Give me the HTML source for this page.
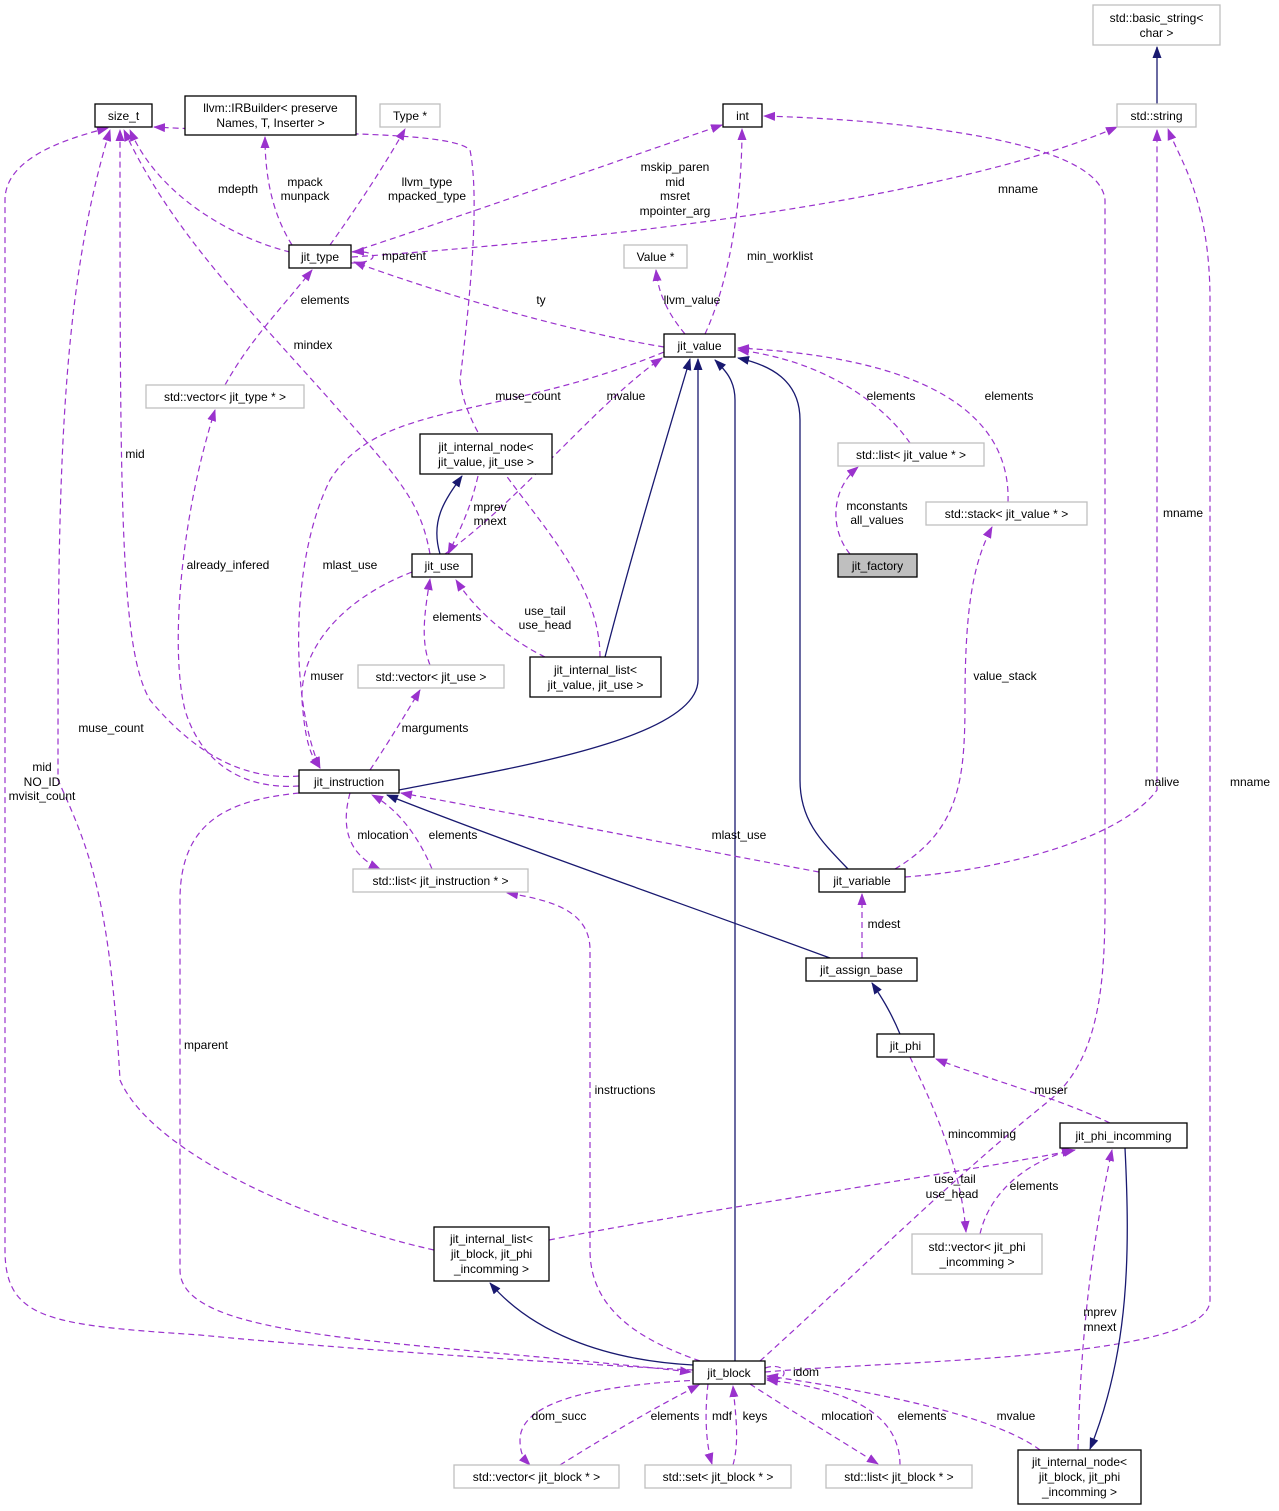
<!DOCTYPE html>
<html><head><meta charset="utf-8"><style>
html,body{margin:0;padding:0;background:#fff;}
svg{display:block;font-family:"Liberation Sans",Arial,sans-serif;font-size:12px;}
.n{fill:#fff;stroke:#000;stroke-width:1.3}
.g{fill:#fff;stroke:#bfbfbf;stroke-width:1.3}
.d{fill:none;stroke:#9a32cd;stroke-width:1.2;stroke-dasharray:6,4;marker-end:url(#mp)}
.s{fill:none;stroke:#191970;stroke-width:1.3;marker-end:url(#mn)}
text{fill:#000}
.c{text-anchor:middle}
</style></head><body>
<svg width="1279" height="1511" viewBox="0 0 1279 1511" xmlns="http://www.w3.org/2000/svg">
<defs>
<marker id="mp" markerWidth="12" markerHeight="10" refX="11" refY="4.5" orient="auto" markerUnits="userSpaceOnUse"><path d="M0,0 L12,4.5 L0,9 z" fill="#9a32cd"/></marker>
<marker id="mn" markerWidth="12" markerHeight="10" refX="11" refY="4.5" orient="auto" markerUnits="userSpaceOnUse"><path d="M0,0 L12,4.5 L0,9 z" fill="#191970"/></marker>
</defs>

<!-- edges -->
<path class="s" d="M1157,104 L1157,47"/>
<path class="d" d="M290,252 C240,240 160,200 130,130"/>
<path class="d" d="M292,245 C270,210 265,170 265,137"/>
<path class="d" d="M330,245 C355,210 385,165 405,129"/>
<path class="d" d="M352,252 C450,220 620,160 722,125"/>
<path class="d" d="M352,257 C600,240 950,200 1117,127"/>
<path class="d" d="M351,263 C380,263 380,250 353,252"/>
<path class="d" d="M664,347 C560,330 430,290 354,262"/>
<path class="d" d="M685,334 C665,310 658,290 656,270"/>
<path class="d" d="M705,334 C730,280 742,200 742,129"/>
<path class="d" d="M225,385 C250,340 280,310 312,270"/>
<path class="d" d="M430,554 C420,500 400,480 330,400 C250,310 170,230 124,130"/>
<path class="d" d="M299,776 C250,780 200,760 150,700 C120,650 120,500 120,130"/>
<path class="d" d="M600,657 C600,550 470,470 460,380 C470,300 480,200 470,150 C450,130 300,135 154,127"/>
<path class="d" d="M434,1250 C300,1220 150,1150 120,1080 C110,900 90,850 58,780 C58,500 58,300 110,130"/>
<path class="d" d="M693,1370 C500,1360 300,1345 200,1335 C50,1325 5,1320 5,1250 L5,200 C5,160 60,140 108,128"/>
<path class="d" d="M445,554 C520,500 600,400 662,358"/>
<path class="d" d="M664,352 C500,420 380,400 330,480 C290,560 290,700 320,768"/>
<path class="s" d="M440,554 C430,520 445,500 462,476"/>
<path class="d" d="M478,476 C470,510 460,530 448,554"/>
<path class="d" d="M545,657 C510,640 475,610 456,580"/>
<path class="d" d="M430,665 C420,640 425,610 430,579"/>
<path class="s" d="M605,657 C630,560 660,460 690,359"/>
<path class="s" d="M399,790 C500,770 698,740 698,680 L698,359"/>
<path class="s" d="M735,1361 L735,400 C735,380 725,370 715,360"/>
<path class="s" d="M848,869 C820,840 800,820 800,780 L800,420 C800,380 770,365 738,358"/>
<path class="d" d="M910,443 C880,400 820,360 738,350"/>
<path class="d" d="M1008,502 C1010,440 970,360 738,348"/>
<path class="d" d="M850,554 C830,530 830,490 858,467"/>
<path class="d" d="M895,869 C960,830 965,780 965,700 C965,600 975,560 992,527"/>
<path class="d" d="M370,770 C390,740 405,715 420,690"/>
<path class="d" d="M412,572 C340,600 300,650 302,700 C305,740 310,755 320,768"/>
<path class="d" d="M299,786 C240,790 200,760 185,710 C170,650 180,520 215,410"/>
<path class="d" d="M350,793 C340,830 350,855 380,869"/>
<path class="d" d="M432,869 C420,840 400,810 372,795"/>
<path class="d" d="M819,872 C700,850 550,820 401,793"/>
<path class="s" d="M830,958 C700,910 500,840 387,795"/>
<path class="d" d="M905,877 C1000,870 1120,840 1157,790 L1157,130"/>
<path class="d" d="M862,958 L862,894"/>
<path class="s" d="M900,1034 C890,1010 880,995 872,983"/>
<path class="d" d="M1110,1123 C1050,1095 990,1080 936,1059"/>
<path class="d" d="M910,1057 C930,1100 960,1160 966,1232"/>
<path class="d" d="M980,1234 C990,1190 1030,1160 1073,1150"/>
<path class="d" d="M760,1361 C850,1280 950,1180 1050,1100 C1110,1050 1105,950 1105,850 L1105,200 C1100,140 900,120 764,116"/>
<path class="d" d="M549,1240 C700,1210 950,1175 1075,1150"/>
<path class="s" d="M693,1365 C600,1360 530,1330 490,1283"/>
<path class="d" d="M765,1372 C900,1360 1210,1360 1210,1300 L1210,300 C1210,200 1180,160 1168,129"/>
<path class="d" d="M700,1361 C640,1340 590,1310 590,1250 L590,950 C590,910 550,900 507,893"/>
<path class="d" d="M299,793 C230,800 180,820 180,900 L180,1270 C180,1340 400,1340 691,1372"/>
<path class="d" d="M765,1368 C790,1360 790,1385 767,1378"/>
<path class="d" d="M700,1380 C600,1385 520,1400 520,1440 C520,1455 525,1460 530,1465"/>
<path class="d" d="M560,1465 C600,1440 650,1410 699,1385"/>
<path class="d" d="M708,1384 C705,1410 705,1440 712,1464"/>
<path class="d" d="M733,1465 C740,1440 735,1410 733,1386"/>
<path class="d" d="M750,1384 C790,1410 840,1440 878,1464"/>
<path class="d" d="M900,1465 C900,1420 860,1390 767,1380"/>
<path class="d" d="M1040,1450 C1000,1420 900,1395 767,1376"/>
<path class="d" d="M1078,1450 C1080,1350 1090,1250 1112,1150"/>
<path class="s" d="M1125,1148 C1130,1250 1130,1350 1090,1449"/>

<!-- nodes -->
<rect class="n" x="95" y="104" width="57" height="23"/><text class="c" x="123.5" y="120">size_t</text>
<rect class="n" x="185" y="96" width="171" height="39"/><text class="c" x="270.5" y="112">llvm::IRBuilder&lt; preserve</text><text class="c" x="270.5" y="127">Names, T, Inserter &gt;</text>
<rect class="g" x="380" y="104" width="60" height="23"/><text class="c" x="410" y="120">Type *</text>
<rect class="n" x="723" y="104" width="39" height="23"/><text class="c" x="742.5" y="120">int</text>
<rect class="g" x="1093" y="5" width="127" height="40"/><text class="c" x="1156.5" y="22">std::basic_string&lt;</text><text class="c" x="1156.5" y="37">char &gt;</text>
<rect class="g" x="1117" y="104" width="79" height="23"/><text class="c" x="1156.5" y="120">std::string</text>
<rect class="n" x="289" y="245" width="62" height="23"/><text class="c" x="320" y="261">jit_type</text>
<rect class="g" x="624" y="245" width="63" height="23"/><text class="c" x="655.5" y="261">Value *</text>
<rect class="n" x="664" y="334" width="71" height="23"/><text class="c" x="699.5" y="350">jit_value</text>
<rect class="g" x="146" y="385" width="158" height="23"/><text class="c" x="225" y="401">std::vector&lt; jit_type * &gt;</text>
<rect class="n" x="420" y="434" width="132" height="40"/><text class="c" x="486" y="451">jit_internal_node&lt;</text><text class="c" x="486" y="466">jit_value, jit_use &gt;</text>
<rect class="g" x="838" y="443" width="146" height="23"/><text class="c" x="911" y="459">std::list&lt; jit_value * &gt;</text>
<rect class="g" x="926" y="502" width="161" height="23"/><text class="c" x="1006.5" y="518">std::stack&lt; jit_value * &gt;</text>
<rect x="838" y="554" width="79" height="23" fill="#bfbfbf" stroke="#000" stroke-width="1.3"/><text class="c" x="877.5" y="570">jit_factory</text>
<rect class="n" x="412" y="554" width="60" height="23"/><text class="c" x="442" y="570">jit_use</text>
<rect class="g" x="358" y="665" width="146" height="23"/><text class="c" x="431" y="681">std::vector&lt; jit_use &gt;</text>
<rect class="n" x="530" y="657" width="131" height="40"/><text class="c" x="595.5" y="674">jit_internal_list&lt;</text><text class="c" x="595.5" y="689">jit_value, jit_use &gt;</text>
<rect class="n" x="299" y="770" width="100" height="23"/><text class="c" x="349" y="786">jit_instruction</text>
<rect class="g" x="353" y="869" width="175" height="23"/><text class="c" x="440.5" y="885">std::list&lt; jit_instruction * &gt;</text>
<rect class="n" x="819" y="869" width="86" height="23"/><text class="c" x="862" y="885">jit_variable</text>
<rect class="n" x="806" y="958" width="111" height="23"/><text class="c" x="861.5" y="974">jit_assign_base</text>
<rect class="n" x="877" y="1034" width="57" height="23"/><text class="c" x="905.5" y="1050">jit_phi</text>
<rect class="n" x="1060" y="1123" width="127" height="25"/><text class="c" x="1123.5" y="1140">jit_phi_incomming</text>
<rect class="n" x="434" y="1227" width="115" height="54"/><text class="c" x="491.5" y="1243">jit_internal_list&lt;</text><text class="c" x="491.5" y="1258">jit_block, jit_phi</text><text class="c" x="491.5" y="1273">_incomming &gt;</text>
<rect class="g" x="912" y="1234" width="130" height="40"/><text class="c" x="977" y="1251">std::vector&lt; jit_phi</text><text class="c" x="977" y="1266">_incomming &gt;</text>
<rect class="n" x="693" y="1361" width="72" height="23"/><text class="c" x="729" y="1377">jit_block</text>
<rect class="g" x="454" y="1465" width="165" height="23"/><text class="c" x="536.5" y="1481">std::vector&lt; jit_block * &gt;</text>
<rect class="g" x="645" y="1465" width="146" height="23"/><text class="c" x="718" y="1481">std::set&lt; jit_block * &gt;</text>
<rect class="g" x="826" y="1465" width="146" height="23"/><text class="c" x="899" y="1481">std::list&lt; jit_block * &gt;</text>
<rect class="n" x="1018" y="1450" width="123" height="54"/><text class="c" x="1079.5" y="1466">jit_internal_node&lt;</text><text class="c" x="1079.5" y="1481">jit_block, jit_phi</text><text class="c" x="1079.5" y="1496">_incomming &gt;</text>

<!-- edge labels -->
<g class="c">
<text x="238" y="193">mdepth</text>
<text x="305" y="186">mpack</text><text x="305" y="200">munpack</text>
<text x="427" y="186">llvm_type</text><text x="427" y="200">mpacked_type</text>
<text x="675" y="171">mskip_paren</text><text x="675" y="186">mid</text><text x="675" y="200">msret</text><text x="675" y="215">mpointer_arg</text>
<text x="1018" y="193">mname</text>
<text x="404" y="260">mparent</text>
<text x="541" y="304">ty</text>
<text x="692" y="304">llvm_value</text>
<text x="780" y="260">min_worklist</text>
<text x="325" y="304">elements</text>
<text x="313" y="349">mindex</text>
<text x="135" y="458">mid</text>
<text x="528" y="400">muse_count</text>
<text x="626" y="400">mvalue</text>
<text x="891" y="400">elements</text>
<text x="1009" y="400">elements</text>
<text x="490" y="511">mprev</text><text x="490" y="525">mnext</text>
<text x="877" y="510">mconstants</text><text x="877" y="524">all_values</text>
<text x="1183" y="517">mname</text>
<text x="350" y="569">mlast_use</text>
<text x="228" y="569">already_infered</text>
<text x="545" y="615">use_tail</text><text x="545" y="629">use_head</text>
<text x="457" y="621">elements</text>
<text x="327" y="680">muser</text>
<text x="1005" y="680">value_stack</text>
<text x="111" y="732">muse_count</text>
<text x="435" y="732">marguments</text>
<text x="42" y="771">mid</text><text x="42" y="786">NO_ID</text><text x="42" y="800">mvisit_count</text>
<text x="1162" y="786">malive</text>
<text x="1250" y="786">mname</text>
<text x="383" y="839">mlocation</text>
<text x="453" y="839">elements</text>
<text x="739" y="839">mlast_use</text>
<text x="884" y="928">mdest</text>
<text x="206" y="1049">mparent</text>
<text x="625" y="1094">instructions</text>
<text x="1051" y="1094">muser</text>
<text x="982" y="1138">mincomming</text>
<text x="955" y="1183">use_tail</text><text x="952" y="1198">use_head</text>
<text x="1034" y="1190">elements</text>
<text x="1100" y="1316">mprev</text><text x="1100" y="1331">mnext</text>
<text x="806" y="1376">idom</text>
<text x="559" y="1420">dom_succ</text>
<text x="675" y="1420">elements</text>
<text x="722" y="1420">mdf</text>
<text x="755" y="1420">keys</text>
<text x="847" y="1420">mlocation</text>
<text x="922" y="1420">elements</text>
<text x="1016" y="1420">mvalue</text>
</g>
</svg>
</body></html>
